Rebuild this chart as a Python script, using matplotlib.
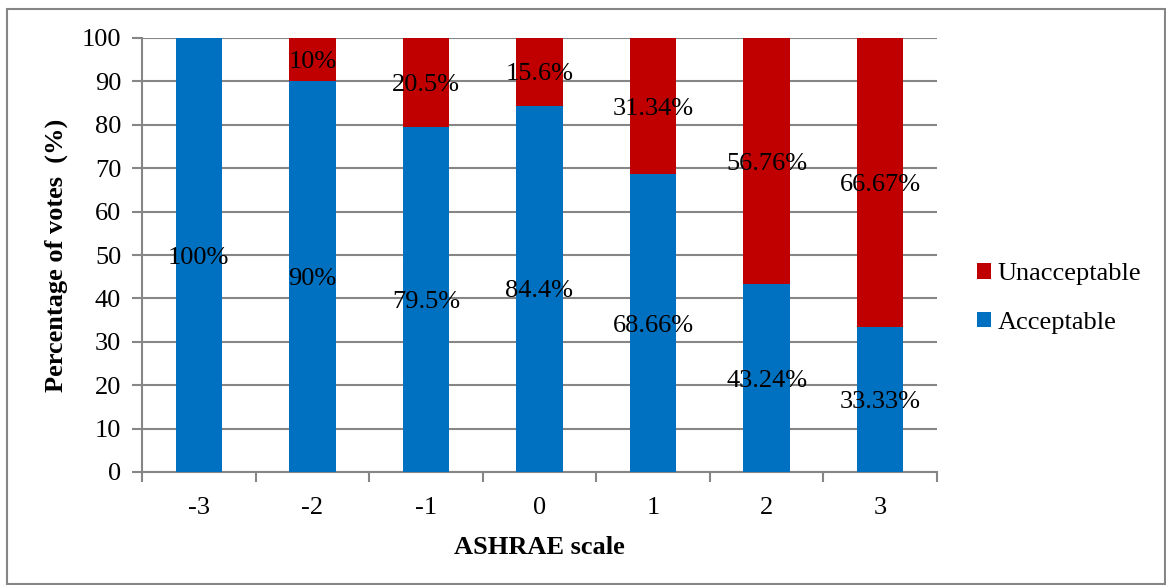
import matplotlib.pyplot as plt
from matplotlib.patches import Rectangle

plt.rcParams['font.family'] = ['Liberation Serif', 'DejaVu Serif']

scale = ['-3', '-2', '-1', '0', '1', '2', '3']
acceptable = [100, 90, 79.5, 84.4, 68.66, 43.24, 33.33]
unacceptable = [0, 10, 20.5, 15.6, 31.34, 56.76, 66.67]
acc_labels = ['100%', '90%', '79.5%', '84.4%', '68.66%', '43.24%', '33.33%']
unacc_labels = ['', '10%', '20.5%', '15.6%', '31.34%', '56.76%', '66.67%']

blue = '#0070C0'
red = '#C00000'
grey = '#868686'
fs = 19

fig = plt.figure(figsize=(11.66, 5.85), dpi=100)
ax = fig.add_axes([142/1166, 1 - 472/585, (937-142)/1166, (472-38)/585])

x = list(range(len(scale)))
b1 = ax.bar(x, acceptable, width=0.41, color=blue, label='Acceptable', zorder=3)
b2 = ax.bar(x, unacceptable, width=0.41, bottom=acceptable, color=red, label='Unacceptable', zorder=3)

# data labels centred in each segment
for i in x:
    ax.text(i, acceptable[i] / 2, acc_labels[i], ha='center', va='center_baseline', fontsize=fs, zorder=4)
    if unacc_labels[i]:
        ax.text(i, acceptable[i] + unacceptable[i] / 2, unacc_labels[i], ha='center',
                va='center_baseline', fontsize=fs, zorder=4)

ax.set_xlim(-0.5, len(scale) - 0.5)
ax.set_ylim(0, 100)
ax.set_yticks(range(0, 101, 10))
ax.set_xticks(x)
ax.set_xticklabels(scale)
ax.set_xticks([i - 0.5 for i in range(len(scale) + 1)], minor=True)
ax.tick_params(axis='x', which='major', length=0, labelsize=fs, pad=18)
ax.tick_params(axis='x', which='minor', length=7, width=1.5, color=grey)
ax.tick_params(axis='y', length=7, width=1.5, color=grey, labelsize=fs, pad=8)

ax.yaxis.grid(True, color=grey, linewidth=1.5, zorder=0)
for s in ['top', 'right']:
    ax.spines[s].set_visible(False)
for s in ['left', 'bottom']:
    ax.spines[s].set_color(grey)
    ax.spines[s].set_linewidth(1.5)

ax.set_ylabel('Percentage of votes  (%)', fontsize=fs, fontweight='bold', labelpad=10)
ax.set_xlabel('ASHRAE scale', fontsize=fs, fontweight='bold', labelpad=12)

handles = [b2, b1]
ax.legend(handles, ['Unacceptable', 'Acceptable'], loc='center left', bbox_to_anchor=(1.02, 0.40),
          frameon=False, fontsize=fs, handlelength=0.55, handleheight=0.55, handletextpad=0.25,
          labelspacing=1.0)

fig.patches.append(Rectangle((7/1166, 0.002), 1 - 8/1166, 1 - 9/585 - 0.002, transform=fig.transFigure,
                             fill=False, edgecolor=grey, linewidth=1.5))

fig.savefig('out.png', dpi=100)
